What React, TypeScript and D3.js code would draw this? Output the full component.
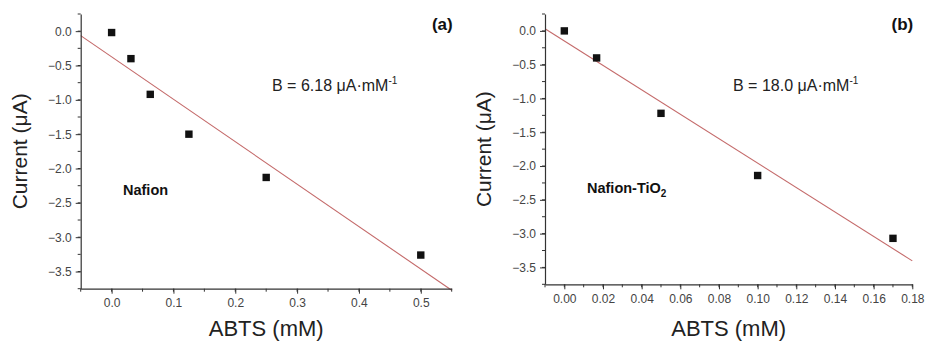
import React, { useEffect, useRef } from "react";
import * as d3 from "d3";

// Panel (a): Nafion
const concA = [0, 0.03125, 0.0625, 0.125, 0.25, 0.5];
const currentA = [-0.02, -0.4, -0.92, -1.5, -2.13, -3.26];
const xTicksA = [0, 0.1, 0.2, 0.3, 0.4, 0.5];

// Panel (b): Nafion-TiO2
const concB = [0, 0.0167, 0.05, 0.1, 0.17];
const currentB = [0, -0.4, -1.22, -2.14, -3.07];
const xTicksB = [0, 0.02, 0.04, 0.06, 0.08, 0.1, 0.12, 0.14, 0.16, 0.18];

const yTicks = [0, -0.5, -1, -1.5, -2, -2.5, -3, -3.5];

const W = 928;
const H = 343;
const FONT = "'Liberation Sans', Arial, sans-serif";

type Panel = {
  xs: number[];
  ys: number[];
  xDomain: [number, number];
  xTicks: number[];
  xMinorStep: number;
  xFmt: string;
  range: [number, number];
  yRange: [number, number];
  letter: string;
  slopeText: string;
  slopeX: number;
  name: string;
  sub?: string;
  nameX: number;
  nameY: number;
};

const panels: Panel[] = [
  {
    xs: concA,
    ys: currentA,
    xDomain: [-0.05, 0.55],
    xTicks: xTicksA,
    xMinorStep: 0.05,
    xFmt: ".1f",
    range: [80.7, 451.7],
    yRange: [288.7, 14],
    letter: "(a)",
    slopeText: "B = 6.18 ",
    slopeX: 272,
    name: "Nafion",
    nameX: 123,
    nameY: 195,
  },
  {
    xs: concB,
    ys: currentB,
    xDomain: [-0.01, 0.18],
    xTicks: xTicksB,
    xMinorStep: 0.01,
    xFmt: ".2f",
    range: [545, 912.3],
    yRange: [284.3, 14],
    letter: "(b)",
    slopeText: "B = 18.0 ",
    slopeX: 733,
    name: "Nafion-TiO",
    sub: "2",
    nameX: 587,
    nameY: 193,
  },
];

function fit(xs: number[], ys: number[]) {
  const mx = d3.mean(xs)!;
  const my = d3.mean(ys)!;
  const sxy = d3.sum(xs, (x, i) => (x - mx) * (ys[i] - my));
  const sxx = d3.sum(xs, (x) => (x - mx) ** 2);
  const slope = sxy / sxx;
  return { slope, intercept: my - slope * mx };
}

export default function App() {
  const svgRef = useRef<SVGSVGElement>(null);

  useEffect(() => {
    if (!svgRef.current) return;
    const svg = d3.select(svgRef.current);
    svg.selectAll("*").remove();
    svg.append("rect").attr("width", W).attr("height", H).attr("fill", "#fff");

    panels.forEach((p) => {
      const x = d3.scaleLinear().domain(p.xDomain).range(p.range);
      const y = d3.scaleLinear().domain([-3.75, 0.25]).range(p.yRange);
      const g = svg.append("g");
      const [x0, x1] = p.range;
      const [yb, yt] = p.yRange;

      // fit line
      const { slope, intercept } = fit(p.xs, p.ys);
      const line = d3
        .line<number>()
        .x((d) => x(d))
        .y((d) => y(slope * d + intercept));
      g.append("path")
        .datum(p.xDomain)
        .attr("d", line)
        .attr("fill", "none")
        .attr("stroke", "#c46a6a")
        .attr("stroke-width", 1.1);

      // minor ticks
      const yMinor = d3.range(-3.75, 0.26, 0.25);
      g.selectAll(".ymin")
        .data(yMinor)
        .enter()
        .append("line")
        .attr("x1", x0)
        .attr("x2", x0 - 3)
        .attr("y1", (d) => y(d))
        .attr("y2", (d) => y(d))
        .attr("stroke", "#333");
      const xMinor = d3.range(p.xDomain[0], p.xDomain[1] + 1e-9, p.xMinorStep);
      g.selectAll(".xmin")
        .data(xMinor)
        .enter()
        .append("line")
        .attr("x1", (d) => x(d))
        .attr("x2", (d) => x(d))
        .attr("y1", yb)
        .attr("y2", yb + 3)
        .attr("stroke", "#333");

      // axes
      const yAxis = d3
        .axisLeft(y)
        .tickValues(yTicks)
        .tickFormat(d3.format(".1f"))
        .tickSize(5)
        .tickPadding(4)
        .tickSizeOuter(0);
      const ya = g
        .append("g")
        .attr("transform", `translate(${x0},0)`)
        .call(yAxis);
      const xAxis = d3
        .axisBottom(x)
        .tickValues(p.xTicks)
        .tickFormat(d3.format(p.xFmt))
        .tickSize(5)
        .tickPadding(5)
        .tickSizeOuter(0);
      const xa = g
        .append("g")
        .attr("transform", `translate(0,${yb})`)
        .call(xAxis);
      [ya, xa].forEach((a) => {
        a.select(".domain").attr("stroke", "#333").attr("stroke-width", 1.2);
        a.selectAll(".tick line").attr("stroke", "#333");
        a.selectAll(".tick text")
          .attr("fill", "#444")
          .style("font-family", FONT)
          .style("font-size", "12px");
      });

      // markers
      g.selectAll(".pt")
        .data(p.xs)
        .enter()
        .append("rect")
        .attr("x", (d) => x(d) - 3.7)
        .attr("y", (d, i) => y(p.ys[i]) - 3.7)
        .attr("width", 7.4)
        .attr("height", 7.4)
        .attr("fill", "#111");

      // axis titles
      g.append("text")
        .attr("x", (x0 + x1) / 2)
        .attr("y", 336)
        .attr("text-anchor", "middle")
        .attr("fill", "#222")
        .style("font-family", FONT)
        .style("font-size", "22px")
        .text("ABTS (mM)");
      g.append("text")
        .attr(
          "transform",
          `translate(${x0 - 54},${(yb + yt) / 2}) rotate(-90)`
        )
        .attr("text-anchor", "middle")
        .attr("fill", "#222")
        .style("font-family", FONT)
        .style("font-size", "21px")
        .text("Current (μA)");

      // annotations
      g.append("text")
        .attr("x", x1 + 1)
        .attr("y", 30)
        .attr("text-anchor", "end")
        .attr("fill", "#111")
        .style("font-family", FONT)
        .style("font-size", "17px")
        .style("font-weight", "bold")
        .text(p.letter);

      const b = g
        .append("text")
        .attr("x", p.slopeX)
        .attr("y", 91)
        .attr("fill", "#222")
        .style("font-family", FONT)
        .style("font-size", "16px");
      b.append("tspan").text(p.slopeText + "μA·mM");
      b.append("tspan")
        .attr("dy", -7)
        .style("font-size", "10px")
        .text("-1");

      const n = g
        .append("text")
        .attr("x", p.nameX)
        .attr("y", p.nameY)
        .attr("fill", "#111")
        .style("font-family", FONT)
        .style("font-size", "14.5px")
        .style("font-weight", "bold");
      n.append("tspan").text(p.name);
      if (p.sub) {
        n.append("tspan")
          .attr("dy", 4)
          .style("font-size", "10px")
          .text(p.sub);
      }
    });
  }, []);

  return (
    <svg
      ref={svgRef}
      width={W}
      height={H}
      style={{ position: "absolute", left: 0, top: 0 }}
    />
  );
}
